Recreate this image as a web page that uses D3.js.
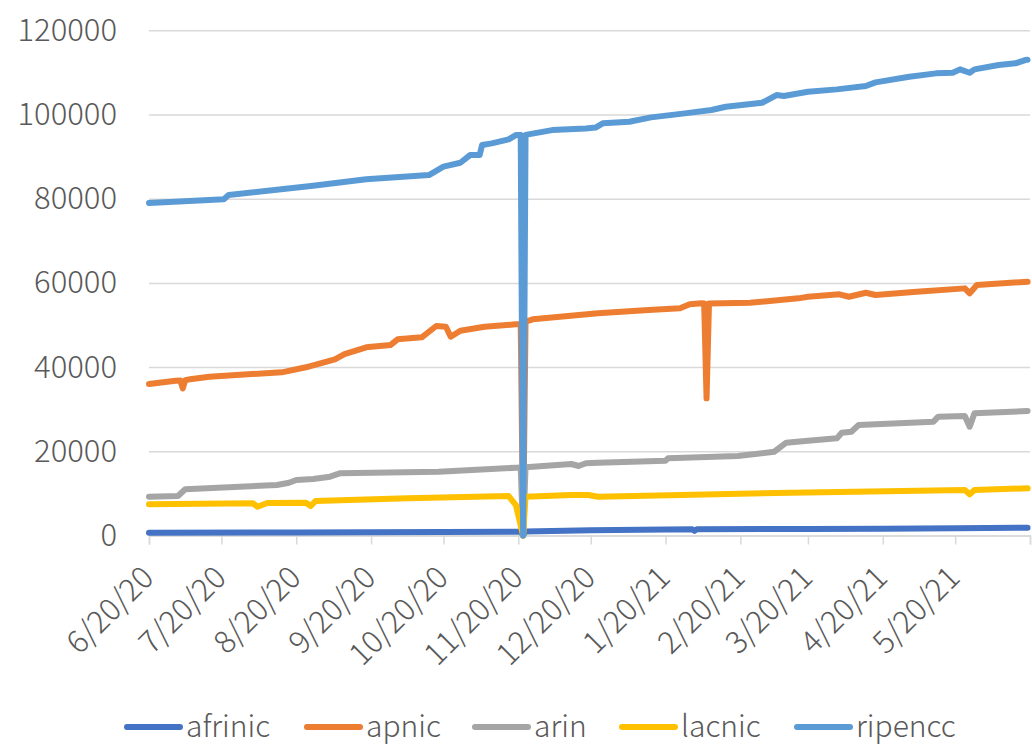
<!DOCTYPE html>
<html>
<head>
<meta charset="utf-8">
<script src="https://cdn.jsdelivr.net/npm/d3@7"></script>
<style>
  html, body { margin: 0; padding: 0; background: #fff; }
  svg { display: block; }
  text { font-family: "Noto Sans CJK JP", "Noto Sans", sans-serif; fill: #595959; font-weight: 300; }
</style>
</head>
<body>
<svg id="chart" width="1032" height="745"></svg>
<script>
// ---------- data ----------
const seriesNames = ["afrinic", "apnic", "arin", "lacnic", "ripencc"];
const seriesColors = ["#4472C4", "#ED7D31", "#A5A5A5", "#FFC000", "#5B9BD5"];

const yTicks = [0, 20000, 40000, 60000, 80000, 100000, 120000];
const xTickLabels = ["6/20/20", "7/20/20", "8/20/20", "9/20/20", "10/20/20", "11/20/20",
  "12/20/20", "1/20/21", "2/20/21", "3/20/21", "4/20/21", "5/20/21", "6/20/21"];

const afrinicDates  = ["6/20/20", "8/20/20", "10/20/20", "11/19/20", "11/21/20", "11/22/20", "11/23/20",
  "12/20/20", "1/20/21", "1/31/21", "2/1/21", "2/2/21", "3/20/21", "4/20/21", "5/20/21", "6/19/21"];
const afrinicValues = [670, 740, 830, 900, 900, 0, 950,
  1250, 1420, 1480, 1100, 1480, 1550, 1620, 1720, 1850];

const apnicDates  = ["6/20/20", "7/1/20", "7/3/20", "7/4/20", "7/5/20", "7/7/20", "7/15/20", "7/31/20",
  "8/14/20", "8/24/20", "9/5/20", "9/9/20", "9/18/20", "9/28/20", "10/1/20", "10/11/20", "10/17/20",
  "10/21/20", "10/23/20", "10/27/20", "11/6/20", "11/19/20", "11/21/20", "11/22/20", "11/23/20",
  "11/26/20", "12/23/20", "1/13/21", "1/26/21", "1/30/21", "2/4/21", "2/5/21", "2/6/21", "2/7/21",
  "2/24/21", "3/16/21", "3/20/21", "4/2/21", "4/6/21", "4/13/21", "4/17/21", "5/4/21", "5/24/21",
  "5/26/21", "5/29/21", "6/19/21"];
const apnicValues = [35980, 36770, 36800, 34960, 36900, 37100, 37720, 38280,
  38760, 39950, 41850, 43100, 44700, 45240, 46600, 47070, 49760,
  49600, 47220, 48640, 49600, 50160, 50200, 0, 50800,
  51350, 52780, 53560, 53960, 54910, 55150, 55100, 32580, 55100,
  55290, 56330, 56710, 57280, 56710, 57670, 57120, 57900, 58700,
  57520, 59490, 60280];

const arinDates  = ["6/20/20", "7/2/20", "7/5/20", "8/12/20", "8/17/20", "8/20/20", "8/27/20", "9/3/20",
  "9/7/20", "10/18/20", "11/19/20", "11/21/20", "11/22/20", "11/23/20", "12/12/20", "12/15/20",
  "12/18/20", "12/23/20", "1/20/21", "1/21/21", "2/19/21", "3/6/21", "3/11/21", "3/20/21", "4/1/21",
  "4/3/21", "4/7/21", "4/10/21", "5/11/21", "5/13/21", "5/24/21", "5/26/21", "5/28/21", "6/19/21"];
const arinValues = [9220, 9380, 10970, 11990, 12540, 13180, 13420, 13970,
  14770, 15150, 16100, 16150, 0, 16200, 16980, 16510,
  17150, 17290, 17770, 18340, 18880, 19900, 22040, 22520, 23080,
  24420, 24650, 26240, 27030, 28220, 28380, 25840, 29020, 29570];

const lacnicDates  = ["6/20/20", "8/2/20", "8/4/20", "8/8/20", "8/24/20", "8/26/20", "8/28/20", "10/5/20",
  "11/16/20", "11/19/20", "11/22/20", "11/23/20", "12/12/20", "12/19/20", "12/23/20", "3/13/21",
  "5/24/21", "5/26/21", "5/28/21", "6/19/21"];
const lacnicValues = [7410, 7650, 6840, 7720, 7790, 7000, 8190, 8830,
  9380, 7240, 0, 9220, 9620, 9620, 9220, 10170,
  10800, 9780, 10820, 11210];

const ripenccDates  = ["6/20/20", "7/21/20", "7/23/20", "8/27/20", "9/18/20", "10/14/20", "10/20/20",
  "10/27/20", "10/31/20", "11/4/20", "11/5/20", "11/9/20", "11/16/20", "11/19/20", "11/21/20",
  "11/22/20", "11/23/20", "12/4/20", "12/18/20", "12/22/20", "12/25/20", "1/5/21", "1/14/21",
  "1/28/21", "2/8/21", "2/14/21", "3/1/21", "3/7/21", "3/10/21", "3/20/21", "4/1/21", "4/13/21",
  "4/17/21", "5/1/21", "5/12/21", "5/19/21", "5/22/21", "5/26/21", "5/28/21", "6/7/21", "6/14/21",
  "6/18/21", "6/19/21"];
const ripenccValues = [79000, 79850, 80870, 83080, 84600, 85620, 87600,
  88540, 90370, 90370, 92740, 93150, 94100, 95120, 95150,
  0, 95150, 96300, 96700, 96900, 97900, 98280, 99320,
  100270, 101060, 101840, 102790, 104620, 104380, 105400, 105970, 106760,
  107630, 108960, 109770, 109910, 110720, 109910, 110720, 111740, 112150,
  112930, 113000];

const seriesDates = [afrinicDates, apnicDates, arinDates, lacnicDates, ripenccDates];
const seriesValues = [afrinicValues, apnicValues, arinValues, lacnicValues, ripenccValues];

// ---------- drawing ----------
const parse = d3.timeParse("%m/%d/%y");
const fmt = d3.timeFormat("%-m/%-d/%y");
const svg = d3.select("#chart");

const plotLeft = 149, plotRight = 1030, plotTop = 30.3, plotBottom = 535.5;
const x = d3.scaleTime().domain([parse("6/20/20"), parse("6/20/21")]).range([plotLeft, plotRight]);
const y = d3.scaleLinear().domain([0, 120000]).range([plotBottom, plotTop]);
const fontStack = '"Noto Sans CJK JP", "Noto Sans", sans-serif';

// y axis with gridlines
const yAxis = svg.append("g")
  .attr("transform", `translate(${plotLeft},0)`)
  .call(d3.axisLeft(y).tickValues(yTicks).tickSize(-(plotRight - plotLeft)).tickPadding(32).tickFormat(d3.format("d")));
yAxis.select(".domain").remove();
yAxis.selectAll(".tick line").attr("stroke", "#d9d9d9").attr("stroke-width", 1.5);
yAxis.selectAll(".tick text").attr("font-size", 31).attr("fill", "#595959")
  .style("font-family", fontStack).style("font-weight", 300);

// x axis
const xAxis = svg.append("g")
  .attr("transform", `translate(0,${plotBottom})`)
  .call(d3.axisBottom(x).tickValues(xTickLabels.map(parse)).tickSize(9).tickFormat(fmt));
xAxis.select(".domain").attr("stroke", "#d9d9d9").attr("stroke-width", 1.5);
xAxis.selectAll(".tick line").attr("stroke", "#d9d9d9").attr("stroke-width", 1.5);
xAxis.selectAll(".tick text")
  .attr("font-size", 31).attr("fill", "#595959")
  .style("font-family", fontStack).style("font-weight", 300)
  .attr("text-anchor", "end")
  .attr("dy", null).attr("y", null)
  .attr("transform", "translate(6,44) rotate(-45)")
  .style("display", (d, i) => i === xTickLabels.length - 1 ? "none" : null);

// lines
const line = d3.line().x(d => x(d[0])).y(d => y(d[1]));
seriesNames.forEach((name, i) => {
  const pts = seriesDates[i].map((d, j) => [parse(d), seriesValues[i][j]]);
  svg.append("path")
    .datum(pts)
    .attr("fill", "none")
    .attr("stroke", seriesColors[i])
    .attr("stroke-width", 6)
    .attr("stroke-linejoin", "round")
    .attr("stroke-linecap", "round")
    .attr("d", line);
});

// legend
const legendX = [127, 307, 475, 622, 797];
const legendY = 727;
const lg = svg.append("g");
seriesNames.forEach((name, i) => {
  lg.append("line")
    .attr("x1", legendX[i]).attr("x2", legendX[i] + 53)
    .attr("y1", legendY).attr("y2", legendY)
    .attr("stroke", seriesColors[i]).attr("stroke-width", 6).attr("stroke-linecap", "round");
  lg.append("text")
    .attr("x", legendX[i] + 59).attr("y", legendY + 10)
    .attr("font-size", 30)
    .text(name);
});
</script>
</body>
</html>
